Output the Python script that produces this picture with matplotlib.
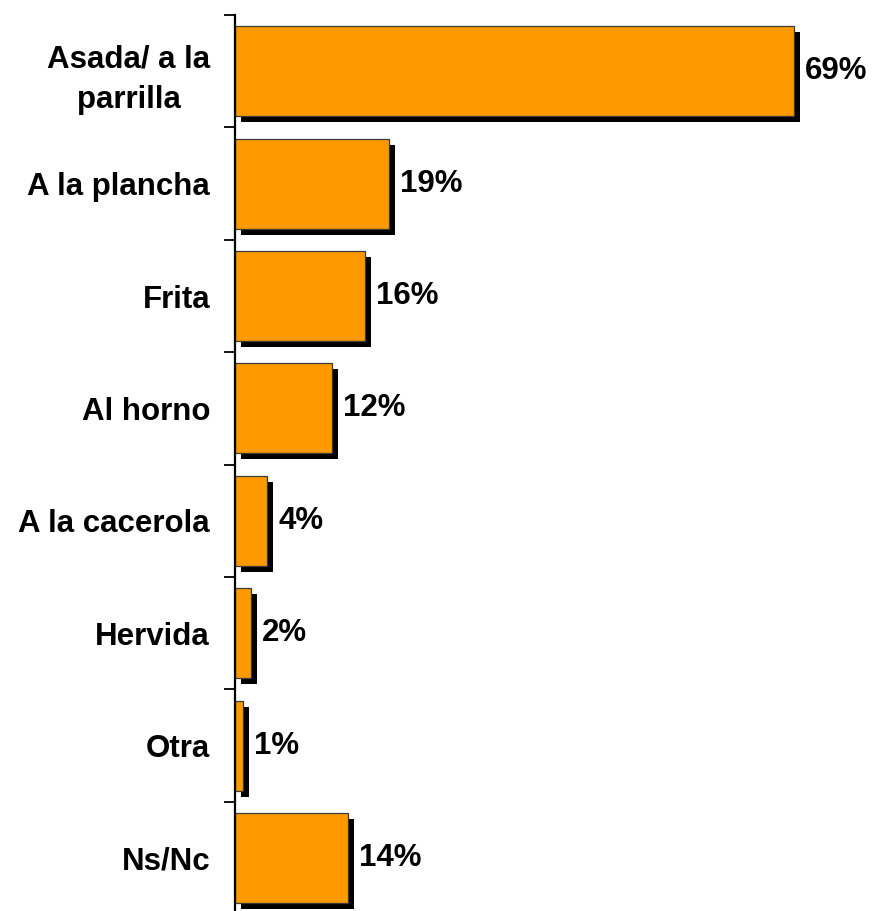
import matplotlib
matplotlib.use("Agg")
import matplotlib.pyplot as plt
import matplotlib.transforms as mtransforms
import numpy as np

categories = ["Asada/ a la\nparrilla", "A la plancha", "Frita", "Al horno",
              "A la cacerola", "Hervida", "Otra", "Ns/Nc"]
values = [69, 19, 16, 12, 4, 2, 1, 14]

plt.rcParams['font.family'] = ['Liberation Sans', 'DejaVu Sans']

W, H, DPI = 872, 911, 100
fig = plt.figure(figsize=(W / DPI, H / DPI), dpi=DPI)

ax_left_px, ax_top_px, step_px = 235, 15, 112.4
n = len(categories)
ax_bottom_px = ax_top_px + n * step_px
ax = fig.add_axes([ax_left_px / W, (H - ax_bottom_px) / H,
                   (W - ax_left_px) / W, (ax_bottom_px - ax_top_px) / H])

px_per_unit = 8.1
ax.set_xlim(0, (W - ax_left_px) / px_per_unit)
ax.set_ylim(n - 0.5, -0.5)

y = np.arange(n)
bar_h = 0.8
shadow = mtransforms.offset_copy(ax.transData, fig=fig, x=6, y=-6, units='dots')
ax.barh(y, values, height=bar_h, color='black', edgecolor='none',
        transform=shadow, zorder=2, clip_on=False)
ax.barh(y, values, height=bar_h, color='#FF9900', edgecolor='#3a3a3a',
        linewidth=0.9, zorder=3, clip_on=False)

fs = 22.5
for i, v in enumerate(values):
    ax.annotate(f"{v}%", xy=(v, i), xytext=(11 * 72 / DPI, 0),
                textcoords='offset points', va='center', ha='left',
                fontsize=fs, fontweight='bold', color='black', zorder=4)

for s in ['top', 'right', 'bottom']:
    ax.spines[s].set_visible(False)
ax.spines['left'].set_linewidth(1.6)
ax.spines['left'].set_color('black')
ax.spines['left'].set_zorder(5)

ax.set_xticks([])
ax.set_yticks(y)
ax.set_yticklabels(categories, fontsize=fs, fontweight='bold',
                   multialignment='center', linespacing=1.45)
ax.tick_params(axis='y', which='major', length=0, pad=25 * 72 / DPI)
ax.set_yticks(np.arange(-0.5, n, 1.0), minor=True)
ax.tick_params(axis='y', which='minor', length=11 * 72 / DPI, width=1.3,
               color='black')

fig.savefig("out.png", dpi=DPI)
